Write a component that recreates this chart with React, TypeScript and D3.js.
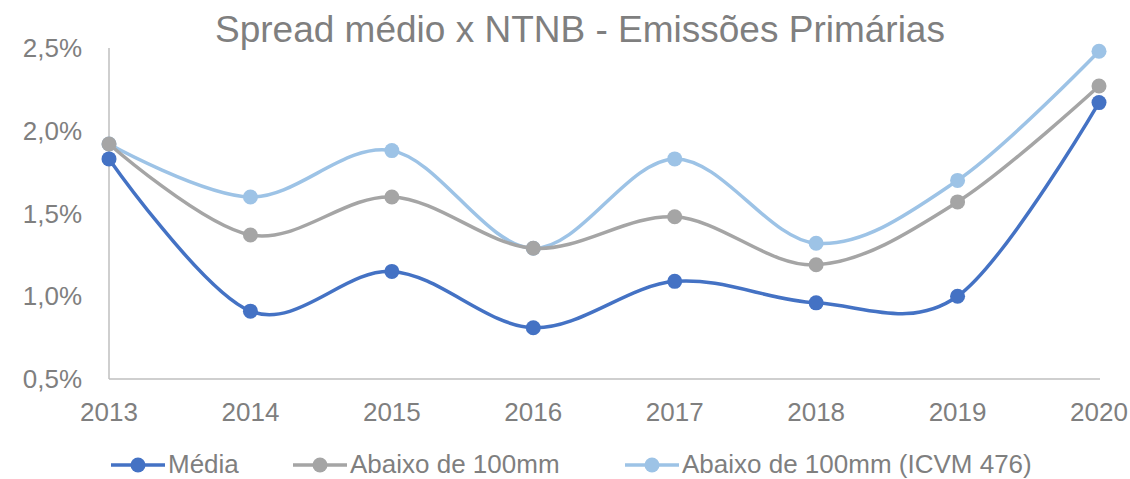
import React from "react";
import * as d3 from "d3";

const years = ["2013", "2014", "2015", "2016", "2017", "2018", "2019", "2020"];
const media = [1.83, 0.91, 1.15, 0.81, 1.09, 0.96, 1.0, 2.17];
const abaixo = [1.92, 1.37, 1.6, 1.29, 1.48, 1.19, 1.57, 2.27];
const icvm = [1.92, 1.6, 1.88, 1.29, 1.83, 1.32, 1.7, 2.48];
const yTicks = [0.5, 1.0, 1.5, 2.0, 2.5];
const seriesNames = ["Média", "Abaixo de 100mm", "Abaixo de 100mm (ICVM 476)"];
const title = "Spread médio x NTNB - Emissões Primárias";

const W = 1130;
const H = 479;
const font = "'Liberation Sans', Arial, sans-serif";
const textColor = "#7f7f7f";

export default function App() {
  const x = d3.scalePoint<string>().domain(years).range([109, 1099]);
  const y = d3.scaleLinear().domain([0.5, 2.5]).range([379, 48]);
  const line = d3
    .line<number>()
    .x((_, i) => x(years[i]) as number)
    .y((d) => y(d))
    .curve(d3.curveCatmullRom.alpha(0));

  const series = [
    { name: seriesNames[0], values: media, color: "#4472c4" },
    { name: seriesNames[1], values: abaixo, color: "#a5a5a5" },
    { name: seriesNames[2], values: icvm, color: "#9dc3e6" },
  ];
  const drawOrder = [series[2], series[1], series[0]];
  const legendX = [111, 293, 625];

  return (
    <svg width={W} height={H} style={{ position: "absolute", left: 0, top: 0, background: "#fff" }}>
      <text x={580} y={42} textAnchor="middle" fontFamily={font} fontSize={37} fill={textColor}>
        {title}
      </text>
      {yTicks.map((t) => (
        <text key={t} x={82} y={y(t) + 9} textAnchor="end" fontFamily={font} fontSize={26} fill={textColor}>
          {t.toFixed(1).replace(".", ",") + "%"}
        </text>
      ))}
      <line x1={109} x2={109} y1={48} y2={379} stroke="#bfbfbf" strokeWidth={1.5} />
      <line x1={109} x2={1100} y1={379} y2={379} stroke="#bfbfbf" strokeWidth={1.5} />
      {years.map((yr) => (
        <text key={yr} x={x(yr)} y={421} textAnchor="middle" fontFamily={font} fontSize={26} fill={textColor}>
          {yr}
        </text>
      ))}
      {drawOrder.map((s) => (
        <g key={s.name}>
          <path d={line(s.values) || ""} fill="none" stroke={s.color} strokeWidth={3.5} />
          {s.values.map((v, i) => (
            <circle key={i} cx={x(years[i])} cy={y(v)} r={7.5} fill={s.color} />
          ))}
        </g>
      ))}
      {series.map((s, i) => (
        <g key={s.name}>
          <line x1={legendX[i]} x2={legendX[i] + 54} y1={465} y2={465} stroke={s.color} strokeWidth={3.5} />
          <circle cx={legendX[i] + 27} cy={465} r={7.5} fill={s.color} />
          <text x={legendX[i] + 57} y={473} fontFamily={font} fontSize={26} fill={textColor}>
            {s.name}
          </text>
        </g>
      ))}
    </svg>
  );
}
